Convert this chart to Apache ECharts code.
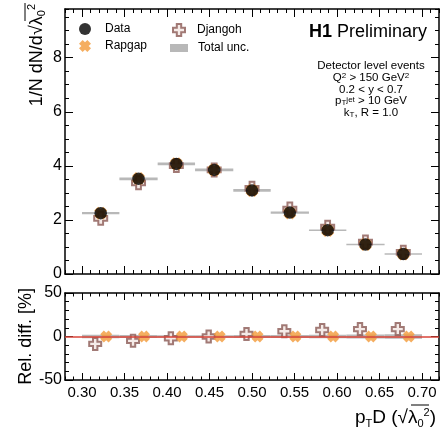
<!DOCTYPE html>
<html><head><meta charset="utf-8">
<script src="https://cdn.jsdelivr.net/npm/echarts@6/dist/echarts.min.js"></script>
<style>html,body{margin:0;padding:0;background:#fff}#c{width:442px;height:434px}</style>
</head><body><div id="c"></div>
<script>
// ---- data ----
const binLow  = [0.300,0.344,0.389,0.433,0.478,0.522,0.567,0.611,0.656];
const binHigh = [0.344,0.389,0.433,0.478,0.522,0.567,0.611,0.656,0.700];
const dataVals    = [2.25,3.52,4.07,3.85,3.09,2.27,1.62,1.09,0.74];
const dataUnc     = [0.04,0.05,0.05,0.05,0.05,0.04,0.03,0.03,0.02];
const rapgapVals  = [2.25,3.53,4.08,3.85,3.09,2.26,1.61,1.09,0.74];
const djangohVals = [2.06,3.37,4.01,3.85,3.17,2.40,1.73,1.18,0.80];
const djangohRel  = [-8.5,-5,-2,0,3,6,7.5,8.5,8.5];
const rapgapRel   = [0,0,0,0,0,0,0,0,0];
const relUnc      = [2,1.6,1.4,1.4,1.6,1.8,2,2.4,2.6];
const xTicks = [0.30,0.35,0.40,0.45,0.50,0.55,0.60,0.65,0.70];
const yTicksTop = [0,2,4,6,8];
const yTicksBottom = [-50,0,50];

const X_MIN = 0.28, X_MAX = 0.72;
const FONT = '"Liberation Sans", Arial, Helvetica, sans-serif';
const ORANGE = '#f29a38', BROWN = '#8b5a55', GREY = '#b8b8b8', RED = '#d9453a';
const PLUS = 'path://M-1.1,-3L1.1,-3L1.1,-1.1L3,-1.1L3,1.1L1.1,1.1L1.1,3L-1.1,3L-1.1,1.1L-3,1.1L-3,-1.1L-1.1,-1.1Z';
const XSHAPE = 'path://M1.202,-3.041L3.041,-1.202L1.838,0L3.041,1.202L1.202,3.041L0,1.838L-1.202,3.041L-3.041,1.202L-1.838,0L-3.041,-1.202L-1.202,-3.041L0,-1.838Z';

const centers = binLow.map((l,i)=>(l+binHigh[i])/2);

const lineStyle = {color:'#000', width:1.5};
function xAxesFor(g, showLabels, majorLen, minorLen){
  const base = {type:'value', gridIndex:g, min:X_MIN, max:X_MAX, splitLine:{show:false}};
  const major = (pos, lab) => Object.assign({}, base, {position:pos,
    axisLine:{show:true,onZero:false,lineStyle},
    axisTick:{show:true,inside:true,length:majorLen,customValues:xTicks,lineStyle:{color:'#000',width:1}},
    axisLabel:{show:lab,customValues:xTicks,formatter:v=>v.toFixed(2),fontSize:15,color:'#000',fontFamily:FONT,margin:5}});
  const minor = (pos) => Object.assign({}, base, {position:pos, interval:0.01,
    axisLine:{show:false,onZero:false},
    axisTick:{show:true,inside:true,length:minorLen,lineStyle:{color:'#000',width:1}},
    axisLabel:{show:false}});
  return [major('bottom',showLabels), minor('bottom'), major('top',false), minor('top')];
}
function yAxesFor(g, min, max, ticks, minorInt, majorLen, minorLen){
  const base = {type:'value', gridIndex:g, min:min, max:max, splitLine:{show:false}};
  const major = (pos, lab) => Object.assign({}, base, {position:pos,
    axisLine:{show:true,onZero:false,lineStyle},
    axisTick:{show:true,inside:true,length:majorLen,customValues:ticks,lineStyle:{color:'#000',width:1}},
    axisLabel:{show:lab,customValues:ticks,fontSize:16,color:'#000',fontFamily:FONT,margin:3}});
  const minor = (pos) => Object.assign({}, base, {position:pos, interval:minorInt,
    axisLine:{show:false,onZero:false},
    axisTick:{show:true,inside:true,length:minorLen,lineStyle:{color:'#000',width:1}},
    axisLabel:{show:false}});
  return [major('left',true), minor('left'), major('right',false), minor('right')];
}

function renderBand(params, api){
  const a = api.coord([api.value(0), api.value(2)+api.value(3)]);
  const b = api.coord([api.value(1), api.value(2)-api.value(3)]);
  let y = a[1], h = b[1]-a[1];
  if (h < 1.6){ y -= (1.6-h)/2; h = 1.6; }
  return {type:'rect', shape:{x:a[0], y:y, width:b[0]-a[0], height:h}, style:{fill:api.visual('color')}};
}

const chart = echarts.init(document.getElementById('c'), null, {renderer:'canvas'});
const subsup = {
  l:{fontSize:19,fontFamily:FONT},
  sub:{fontSize:11,fontFamily:FONT,verticalAlign:'bottom'},
  sup:{fontSize:11,fontFamily:FONT,verticalAlign:'top'}
};
const option = {
  animation:false,
  backgroundColor:'#fff',
  grid:[
    {left:65, top:9, width:374, height:265},
    {left:65, top:293, width:374, height:87}
  ],
  xAxis: xAxesFor(0,false,8,4).concat(xAxesFor(1,true,7,3.5)),
  yAxis: yAxesFor(0,0,9.8,yTicksTop,0.5,8,4).concat(yAxesFor(1,-50,50,yTicksBottom,10,8,4)),
  legend:[
    {data:['Data','Rapgap'], left:74, top:18, orient:'vertical', itemWidth:30, itemHeight:12, itemGap:5,
     selectedMode:false, textStyle:{fontSize:12,color:'#000',fontFamily:FONT}},
    {data:['Djangoh'], left:167, top:18, itemWidth:26, itemHeight:12,
     selectedMode:false, textStyle:{fontSize:12,color:'#000',fontFamily:FONT}},
    {data:[{name:'Total unc.', icon:'rect'}], left:165, top:37, itemWidth:18, itemHeight:8,
     selectedMode:false, textStyle:{fontSize:12,color:'#000',fontFamily:FONT,padding:[0,0,0,5]}}
  ],
  series:[
    {name:'Total unc.', type:'custom', xAxisIndex:0, yAxisIndex:0, z:1,
     itemStyle:{color:GREY}, renderItem:renderBand, encode:{x:[0,1], y:2},
     data: binLow.map((l,i)=>[l, binHigh[i], dataVals[i], dataUnc[i]])},
    {name:'Djangoh', type:'scatter', xAxisIndex:0, yAxisIndex:0, z:3,
     symbol:PLUS, symbolSize:13, itemStyle:{color:'#f3e6e2', borderColor:BROWN, borderWidth:2},
     data: centers.map((c,i)=>[c, djangohVals[i]])},
    {name:'Rapgap', type:'scatter', xAxisIndex:0, yAxisIndex:0, z:4,
     symbol:XSHAPE, symbolSize:13, itemStyle:{color:ORANGE},
     data: centers.map((c,i)=>[c, rapgapVals[i]])},
    {name:'Data', type:'scatter', xAxisIndex:0, yAxisIndex:0, z:5,
     symbol:'circle', symbolSize:12.5, itemStyle:{color:'#000'},
     data: centers.map((c,i)=>[c, dataVals[i]])},

    {name:'Total unc.', type:'custom', xAxisIndex:4, yAxisIndex:4, z:1,
     itemStyle:{color:GREY}, renderItem:renderBand, encode:{x:[0,1], y:2},
     data: binLow.map((l,i)=>[l, binHigh[i], 0, relUnc[i]]),
     markLine:{silent:true, symbol:'none', label:{show:false}, lineStyle:{color:RED, width:1.5, type:'solid'},
       data:[{yAxis:0}]}},
    {name:'Djangoh', type:'scatter', xAxisIndex:4, yAxisIndex:4, z:3,
     symbol:PLUS, symbolSize:12, symbolOffset:[-5.5,0], itemStyle:{color:'#f3e6e2', borderColor:BROWN, borderWidth:2},
     data: centers.map((c,i)=>[c, djangohRel[i]])},
    {name:'Rapgap', type:'scatter', xAxisIndex:4, yAxisIndex:4, z:4,
     symbol:XSHAPE, symbolSize:12, symbolOffset:[5.5,0], itemStyle:{color:ORANGE},
     data: centers.map((c,i)=>[c, rapgapRel[i]])}
  ],
  graphic:[
    {type:'text', x:37, y:4, rotation:Math.PI/2, z:10,
     style:{text:'1/N dN/d√{l|λ}{sub|0}{sup|2}', align:'right', verticalAlign:'middle',
       font:'18px '+FONT, fill:'#000', lineHeight:21, rich:Object.assign({}, subsup, {l:{fontSize:18,fontFamily:FONT}})}},
    {type:'line', z:10, shape:{x1:25, y1:3, x2:25, y2:21}, style:{stroke:'#000', lineWidth:1}},
    {type:'text', x:26, y:288, rotation:Math.PI/2, z:10,
     style:{text:'Rel. diff. [%]', align:'right', verticalAlign:'middle', font:'18px '+FONT, fill:'#000'}},
    {type:'text', x:436, y:418, z:10,
     style:{text:'p{sub|T}D (√{l|λ}{sub|0}{sup|2})', align:'right', verticalAlign:'middle',
       font:'19px '+FONT, fill:'#000', lineHeight:22, rich:subsup}},
    {type:'line', z:10, shape:{x1:411, y1:405, x2:429, y2:405}, style:{stroke:'#000', lineWidth:1}},
    {type:'text', x:427, y:32, z:10,
     style:{text:'{b|H1} Preliminary', align:'right', verticalAlign:'middle', font:'18px '+FONT, fill:'#000',
       rich:{b:{fontWeight:'bold', fontSize:18, fontFamily:FONT}}}},
    {type:'text', x:371, y:60, z:10,
     style:{text:'Detector level events\nQ{sup|2} > 150 GeV{sup|2}\n0.2 < y < 0.7\np{sub|T}{sup|jet} > 10 GeV\nk{sub|T}, R = 1.0',
       align:'center', verticalAlign:'top', font:'11.5px '+FONT, fill:'#000', lineHeight:11.8,
       rich:{sub:{fontSize:8,fontFamily:FONT,verticalAlign:'bottom',lineHeight:11.8}, sup:{fontSize:8,fontFamily:FONT,verticalAlign:'top',lineHeight:11.8}}}}
  ]
};
chart.setOption(option);
</script>
</body></html>
